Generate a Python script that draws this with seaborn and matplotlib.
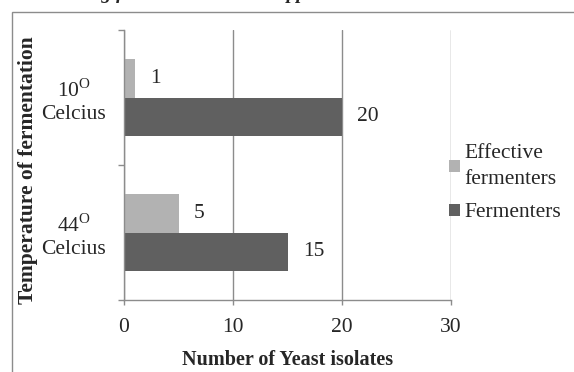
import matplotlib
matplotlib.use("Agg")
from matplotlib import pyplot as plt
import pandas as pd
import seaborn as sns

# data
temperatures = ["10", "44"]
temp_labels = ["10$^{\\mathrm{O}}$\nCelcius", "44$^{\\mathrm{O}}$\nCelcius"]
groups = ["Effective\nfermenters", "Fermenters"]
effective = [1, 5]
fermenters = [20, 15]
colors = ["#b2b2b2", "#606060"]

df = pd.DataFrame({
    "temp": temperatures * 2,
    "count": effective + fermenters,
    "type": [groups[0]] * 2 + [groups[1]] * 2,
})

sns.set_style("white")
plt.rcParams['font.family'] = ['Liberation Serif', 'DejaVu Serif']
plt.rcParams['mathtext.fontset'] = 'custom'
plt.rcParams['mathtext.rm'] = 'Liberation Serif'

grey = "#8c8c8c"
fig = plt.figure(figsize=(5.74, 3.72), dpi=100)
ax = fig.add_axes([124 / 574, 1 - 300 / 372, 327 / 574, 270 / 372])

sns.barplot(data=df, x="count", y="temp", hue="type", orient="h",
            palette=colors, width=0.563, gap=0, ax=ax, order=temperatures,
            hue_order=groups, saturation=1, edgecolor="none")

for c in ax.containers:
    ax.bar_label(c, padding=11, fontsize=15.5)

ax.set_xlim(0, 30)
ax.set_xticks([0, 10, 20, 30])
ax.set_ylim(1.5, -0.5)
ax.set_yticks([0, 1])
ax.set_yticklabels(temp_labels, multialignment="center")
ax.set_yticks([-0.5, 0.5, 1.5], minor=True)
ax.tick_params(axis="y", which="major", length=0, pad=13, labelsize=15.5)
ax.tick_params(axis="y", which="minor", length=4.3, width=1, color=grey, left=True)
ax.tick_params(axis="x", length=3.6, width=1, color=grey, pad=9, labelsize=15.5, bottom=True)

ax.grid(axis="x", color=grey, lw=1)
ax.grid(axis="y", visible=False)
for s in ["top", "right"]:
    ax.spines[s].set_visible(False)
for s in ["left", "bottom"]:
    ax.spines[s].set_color(grey)
    ax.spines[s].set_linewidth(1)

ax.set_xlabel("Number of Yeast isolates", fontsize=14.5, fontweight="bold")
ax.set_ylabel("Temperature of fermentation", fontsize=15.5, fontweight="bold")
ax.xaxis.set_label_coords(0.5, -0.185)
ax.yaxis.set_label_coords(-0.263, 0.48)

leg = ax.legend(loc="center left", bbox_to_anchor=(0.994, 0.433), frameon=False,
                fontsize=15.5, handlelength=0.5, handleheight=0.5, handletextpad=0.22,
                borderpad=0, borderaxespad=0, labelspacing=0.65)
for t in leg.get_texts():
    t.set_linespacing(1.55)

# clipped title at the top and outer chart frame
fig.text(30 / 574, 1 + 1 / 372, "Screening for isolated ethanol application",
         fontsize=14, fontweight="bold", style="italic", va="baseline")
fig.add_artist(plt.Rectangle((12 / 574, -0.1), 1, 1.1 - 12 / 372,
                             transform=fig.transFigure, fill=False, ec=grey, lw=1))

fig.savefig("out.png", dpi=100)
